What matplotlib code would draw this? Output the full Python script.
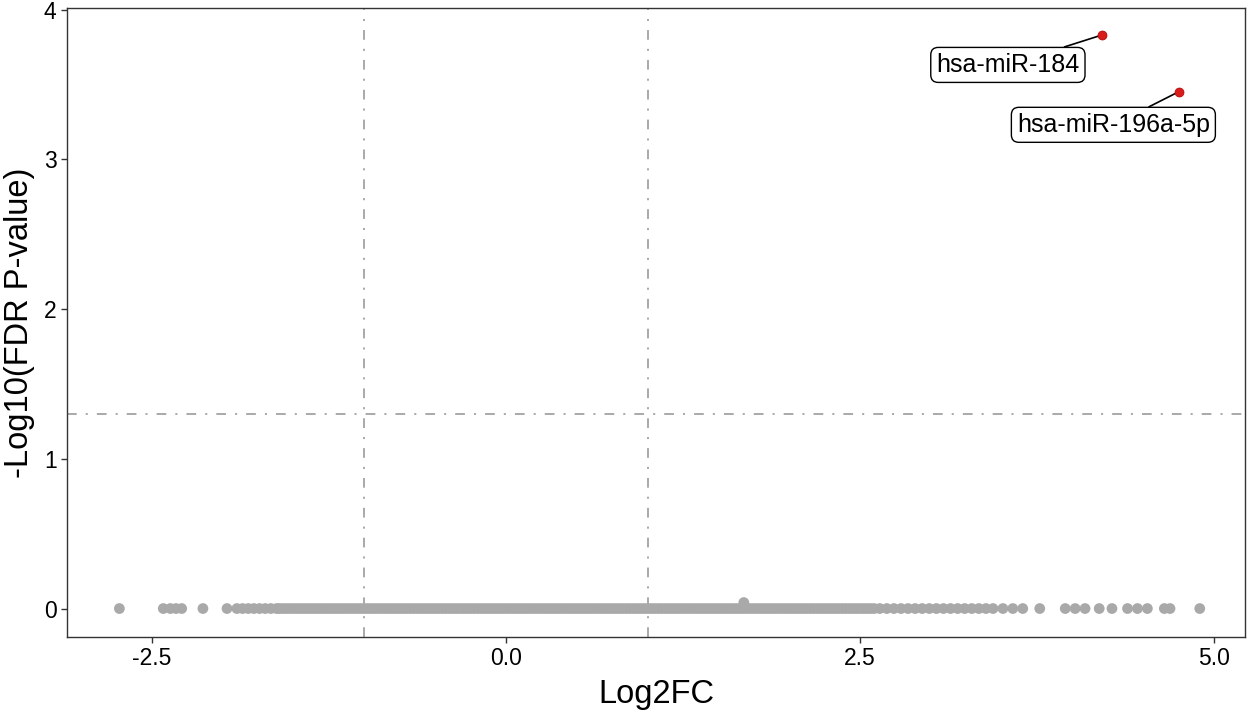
import matplotlib
matplotlib.use("Agg")
import matplotlib.pyplot as plt

plt.rcParams['font.family'] = ['Liberation Sans', 'DejaVu Sans']
plt.rcParams['lines.scale_dashes'] = False

# Non-significant miRNAs (Log2FC, -log10 FDR): sparse tails
grey_tail_x = [
    -2.73, -2.42, -2.37, -2.33, -2.29, -2.14, -1.97, -1.90, -1.86, -1.82,
    -1.78, -1.74, -1.70, -1.66, -1.62,
    2.64, 2.69, 2.74, 2.79, 2.84, 2.89, 2.94, 2.99, 3.04, 3.09,
    3.14, 3.19, 3.24, 3.29, 3.34, 3.39, 3.44, 3.51, 3.58, 3.65,
    3.77, 3.95, 4.02, 4.09, 4.19, 4.28, 4.39, 4.46, 4.53, 4.65,
    4.69, 4.90,
]
# dense core of miRNAs at FDR ~ 1
grey_core_x = [
    -1.600, -1.575, -1.550, -1.525, -1.500, -1.475, -1.450, -1.425, -1.400, -1.375,
    -1.350, -1.325, -1.300, -1.275, -1.250, -1.225, -1.200, -1.175, -1.150, -1.125,
    -1.100, -1.075, -1.050, -1.025, -1.000, -0.975, -0.950, -0.925, -0.900, -0.875,
    -0.850, -0.825, -0.800, -0.775, -0.750, -0.725, -0.700, -0.675, -0.650, -0.625,
    -0.600, -0.575, -0.550, -0.525, -0.500, -0.475, -0.450, -0.425, -0.400, -0.375,
    -0.350, -0.325, -0.300, -0.275, -0.250, -0.225, -0.200, -0.175, -0.150, -0.125,
    -0.100, -0.075, -0.050, -0.025, 0.000, 0.025, 0.050, 0.075, 0.100, 0.125,
    0.150, 0.175, 0.200, 0.225, 0.250, 0.275, 0.300, 0.325, 0.350, 0.375,
    0.400, 0.425, 0.450, 0.475, 0.500, 0.525, 0.550, 0.575, 0.600, 0.625,
    0.650, 0.675, 0.700, 0.725, 0.750, 0.775, 0.800, 0.825, 0.850, 0.875,
    0.900, 0.925, 0.950, 0.975, 1.000, 1.025, 1.050, 1.075, 1.100, 1.125,
    1.150, 1.175, 1.200, 1.225, 1.250, 1.275, 1.300, 1.325, 1.350, 1.375,
    1.400, 1.425, 1.450, 1.475, 1.500, 1.525, 1.550, 1.575, 1.600, 1.625,
    1.650, 1.675, 1.700, 1.725, 1.750, 1.775, 1.800, 1.825, 1.850, 1.875,
    1.900, 1.925, 1.950, 1.975, 2.000, 2.025, 2.050, 2.075, 2.100, 2.125,
    2.150, 2.175, 2.200, 2.225, 2.250, 2.275, 2.300, 2.325, 2.350, 2.375,
    2.400, 2.425, 2.450, 2.475, 2.500, 2.525, 2.550, 2.575, 2.600,
]
# one slightly raised point
grey_raised_x = [1.68]
grey_raised_y = [0.04]

# Significant miRNAs
sig_names = ["hsa-miR-184", "hsa-miR-196a-5p"]
sig_x = [4.21, 4.75]
sig_y = [3.83, 3.45]
label_x = [3.545, 4.29]
label_y = [3.63, 3.23]

fc_cut = [-1.0, 1.0]
p_cut = 1.3

x_ticks = [-2.5, 0.0, 2.5, 5.0]
x_tick_labels = ['-2.5', '0.0', '2.5', '5.0']
y_ticks = [0, 1, 2, 3, 4]

fig = plt.figure(figsize=(12.57, 7.15), dpi=100)
ax = fig.add_axes([0.0533, 0.1091, 0.9372, 0.8797])

grey = '#A9A9A9'
dash = (0, (7.0, 6.5, 1.5, 6.5))
for v in fc_cut:
    ax.axvline(v, color=grey, lw=1.4, linestyle=dash, zorder=1)
ax.axhline(p_cut, color=grey, lw=1.4, linestyle=dash, zorder=1)

gx = grey_tail_x + grey_core_x
ax.scatter(gx, [0.0] * len(gx), s=60, color=grey, edgecolors='none', zorder=2)
ax.scatter(grey_raised_x, grey_raised_y, s=60, color=grey, edgecolors='none', zorder=2)
ax.scatter(sig_x, sig_y, s=42, color='#D81B1B', edgecolors='#B00000',
           linewidths=0.5, zorder=4)

for name, px, py, lx, ly in zip(sig_names, sig_x, sig_y, label_x, label_y):
    ax.annotate(name, xy=(px, py), xytext=(lx, ly), textcoords='data',
                ha='center', va='center', fontsize=18,
                bbox=dict(boxstyle='round,pad=0.22,rounding_size=0.3',
                          fc='white', ec='black', lw=1.0),
                arrowprops=dict(arrowstyle='-', color='black', lw=1.2,
                                shrinkA=0, shrinkB=3),
                zorder=3)

ax.set_xlim(-3.10, 5.22)
ax.set_ylim(-0.19, 4.01)
ax.set_xticks(x_ticks)
ax.set_xticklabels(x_tick_labels)
ax.set_yticks(y_ticks)
ax.tick_params(axis='both', labelsize=16.5, colors='#333333', length=4,
               width=1.0, labelcolor='black')
for sp in ax.spines.values():
    sp.set_color('#333333')
    sp.set_linewidth(1.0)

ax.set_xlabel('Log2FC', fontsize=23.5, labelpad=6)
ax.set_ylabel('-Log10(FDR P-value)', fontsize=23.5, labelpad=6)

fig.savefig('out.png', dpi=100)
